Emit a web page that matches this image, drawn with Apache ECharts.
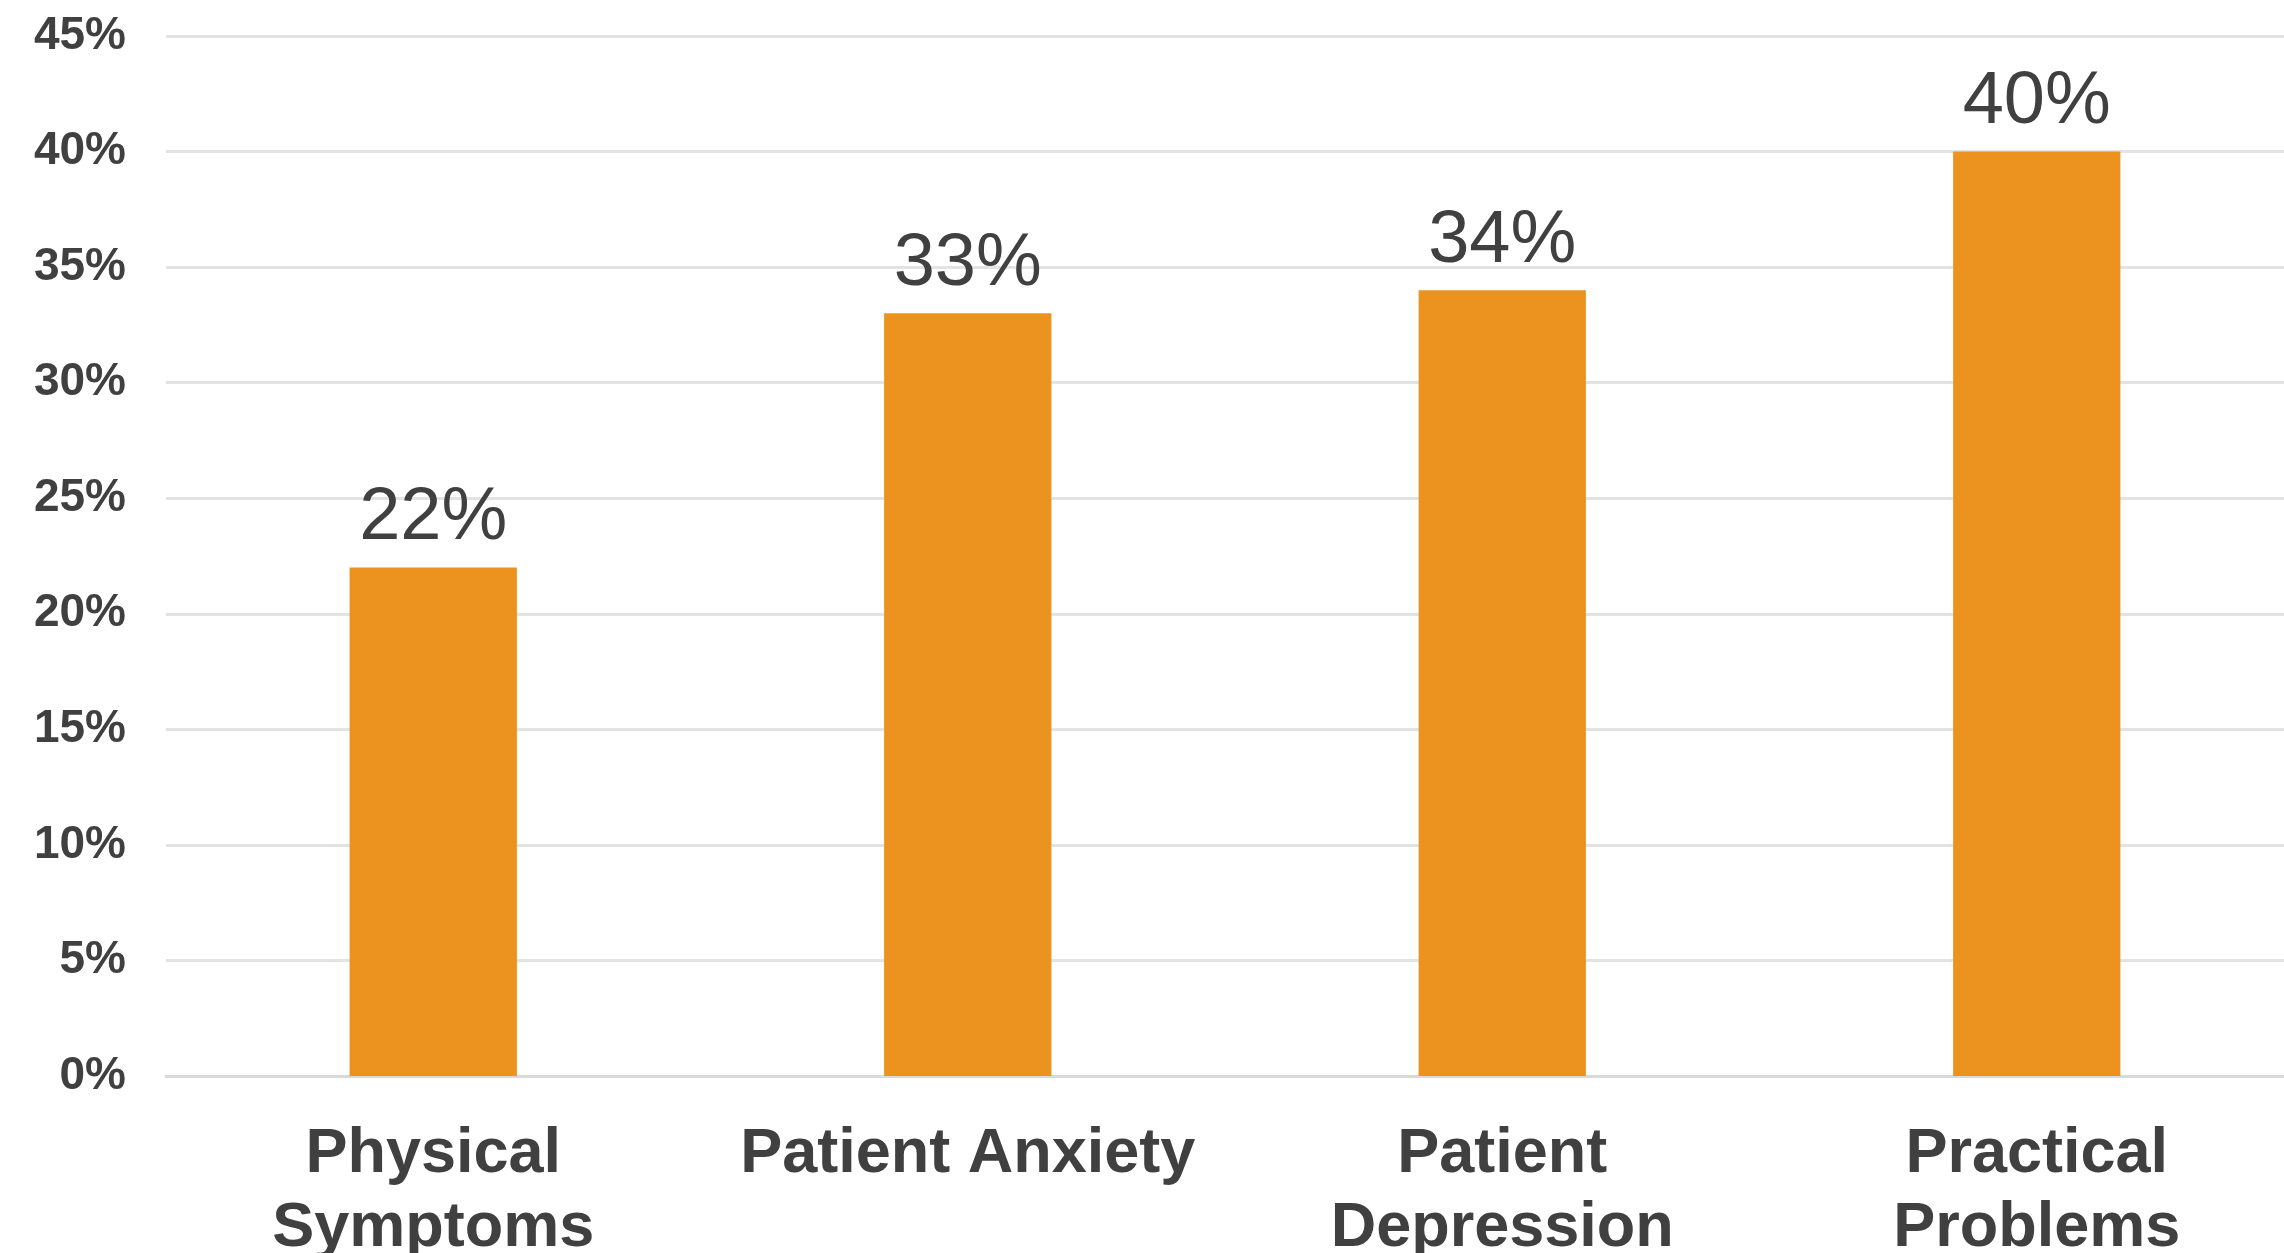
<!DOCTYPE html>
<html>
<head>
<meta charset="utf-8">
<script src="https://cdn.jsdelivr.net/npm/echarts@6/dist/echarts.min.js"></script>
<style>
html,body{margin:0;padding:0;background:#fff;overflow:hidden;width:2284px;height:1253px;}
#chart{width:2304px;height:1253px;}
</style>
</head>
<body>
<div id="chart"></div>
<script>
const categories = ["Physical\nSymptoms", "Patient Anxiety", "Patient\nDepression", "Practical\nProblems"];
const values = [22, 33, 34, 40];
const yTicks = [0, 5, 10, 15, 20, 25, 30, 35, 40, 45];

const chart = echarts.init(document.getElementById('chart'), null, {renderer: 'canvas'});
chart.setOption({
  animation: false,
  backgroundColor: '#ffffff',
  grid: {left: 166, top: 36, right: 0, bottom: 177, containLabel: false, outerBoundsMode: 'none'},
  xAxis: {
    type: 'category',
    data: categories,
    axisLine: {show: true, lineStyle: {color: '#D9D9D9', width: 3}},
    axisTick: {show: false},
    axisLabel: {
      color: '#404040',
      fontFamily: 'Liberation Sans, Arial, sans-serif',
      fontWeight: 'bold',
      fontSize: 63,
      lineHeight: 74,
      margin: 42,
      interval: 0
    }
  },
  yAxis: {
    type: 'value',
    min: yTicks[0],
    max: yTicks[yTicks.length - 1],
    interval: 5,
    axisLine: {show: false},
    axisTick: {show: false},
    splitLine: {lineStyle: {color: '#E3E3E3', width: 3}},
    axisLabel: {
      formatter: '{value}%',
      color: '#404040',
      fontFamily: 'Liberation Sans, Arial, sans-serif',
      fontWeight: 'bold',
      fontSize: 46,
      margin: 40
    }
  },
  series: [{
    type: 'bar',
    data: values,
    barWidth: '31.3%',
    itemStyle: {color: '#EC931F'},
    label: {
      show: true,
      position: 'top',
      distance: 12,
      formatter: '{c}%',
      color: '#404040',
      fontFamily: 'Liberation Sans, Arial, sans-serif',
      fontSize: 74
    }
  }]
});
</script>
</body>
</html>
